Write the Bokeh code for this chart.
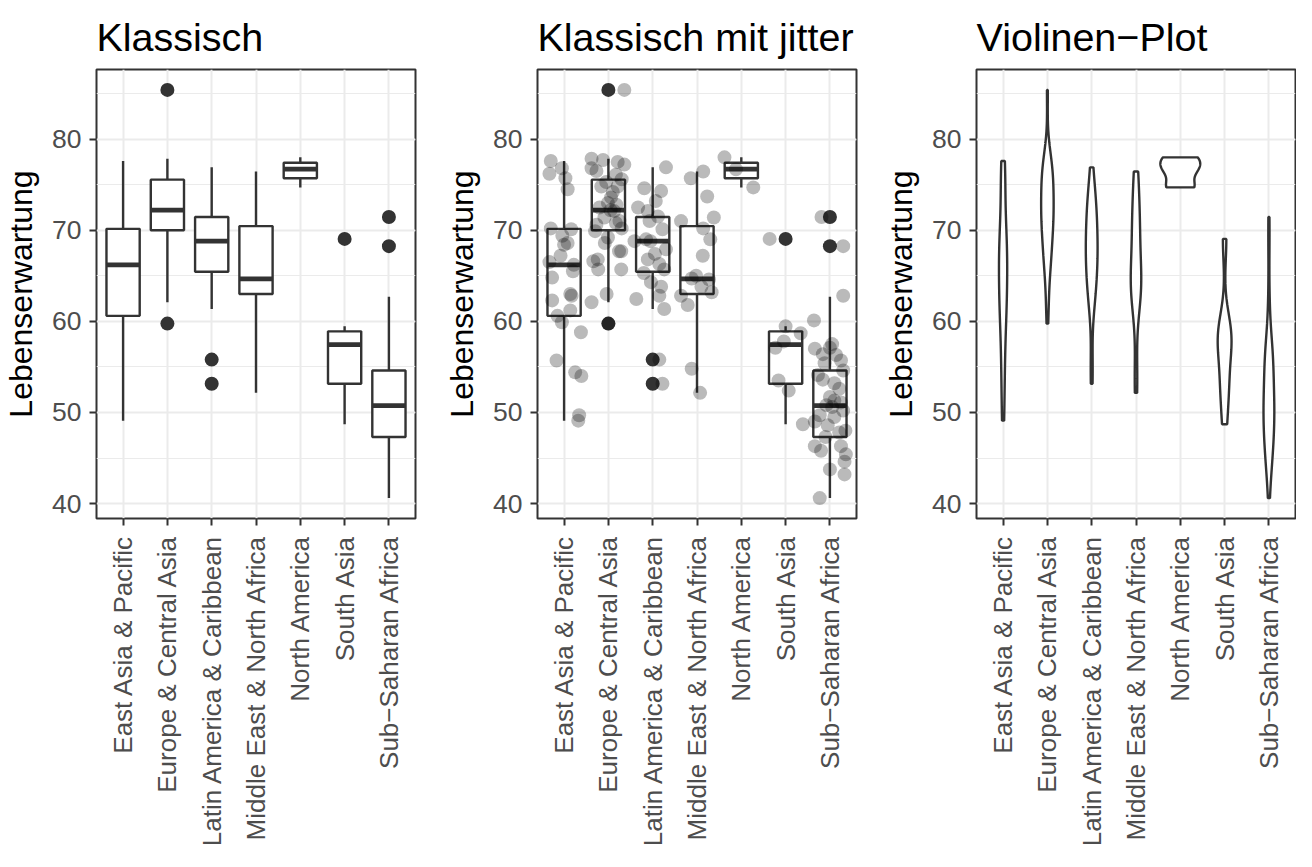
import numpy as np
from bokeh.plotting import figure
from bokeh.models import Range1d, FixedTicker, SingleIntervalTicker
from bokeh.layouts import row
from bokeh.embed import file_html
from bokeh.resources import INLINE

# ---------------- data ----------------
regions = ["East Asia & Pacific", "Europe & Central Asia", "Latin America & Caribbean",
           "Middle East & North Africa", "North America", "South Asia", "Sub\u2212Saharan Africa"]

# box plot statistics
box_lower = [49.1, 62.1, 61.35, 52.15, 74.7, 48.7, 40.6]
box_q1 = [60.6, 70.0, 65.45, 63.0, 75.7, 53.15, 47.3]
box_median = [66.2, 72.2, 68.8, 64.65, 76.7, 57.45, 50.75]
box_q3 = [70.15, 75.55, 71.45, 70.45, 77.4, 58.9, 54.6]
box_upper = [77.6, 77.85, 76.9, 76.45, 78.0, 59.45, 62.7]
outliers = [[], [85.4, 59.75], [55.8, 53.15], [], [], [69.05], [71.45, 68.25]]

# life expectancy per country, by region (with the horizontal jitter)
le_eap = [77.6, 76.8, 76.2, 75.7, 74.5, 70.2, 70.1, 69.4, 68.6, 68.4, 67.2, 66.5, 66.2, 65.5,
          64.8, 63.0, 62.8, 62.3, 61.2, 60.6, 59.9, 58.8, 55.7, 54.4, 54.0, 49.7, 49.1]
jit_eap = [-0.30, -0.05, -0.33, 0.03, 0.08, -0.30, 0.16, -0.04, 0.08, 0.00, -0.08, -0.33, 0.22, 0.20,
           -0.27, 0.14, 0.17, -0.27, 0.14, -0.15, -0.05, 0.38, -0.17, 0.25, 0.39, 0.34, 0.32]
le_eca = [85.4, 77.85, 77.7, 77.5, 77.2, 76.8, 76.5, 76.1, 75.6, 75.3, 74.8, 74.8, 74.2, 73.6,
          73.0, 72.8, 72.5, 72.2, 72.1, 71.4, 71.0, 70.8, 70.6, 70.2, 69.9, 69.2, 68.6, 67.7,
          67.7, 66.8, 66.6, 65.7, 65.7, 63.0, 62.1, 59.75]
jit_eca = [0.36, -0.38, -0.12, 0.21, 0.36, -0.38, -0.27, 0.17, 0.30, -0.05, -0.16, 0.21, 0.10, 0.06,
           -0.01, 0.18, -0.20, 0.05, 0.13, -0.09, 0.25, 0.17, -0.27, 0.30, -0.30, -0.01, -0.08, 0.24,
           0.29, -0.24, -0.34, -0.23, 0.29, -0.04, -0.38, 0.0]
le_lac = [76.9, 74.6, 74.3, 73.2, 72.5, 72.1, 71.5, 71.0, 70.1, 69.0, 68.8, 68.8, 67.9, 67.4,
          66.8, 66.3, 65.7, 65.3, 64.3, 63.8, 62.8, 62.45, 61.35, 55.8, 53.15]
jit_lac = [0.30, -0.19, 0.19, 0.07, -0.33, -0.11, 0.12, -0.07, 0.22, -0.15, -0.05, -0.41, 0.30, 0.05,
           -0.11, 0.15, 0.26, -0.20, -0.04, 0.19, 0.15, -0.37, 0.26, 0.15, 0.22]
le_mena = [76.45, 75.7, 73.7, 71.4, 71.0, 70.2, 69.0, 67.2, 65.0, 64.7, 64.6, 63.8, 63.2, 62.8,
           61.8, 54.8, 52.15]
jit_mena = [0.14, -0.14, 0.23, 0.38, -0.36, 0.14, 0.30, 0.13, -0.02, -0.12, 0.27, 0.10, 0.33, -0.36,
            -0.21, -0.12, 0.07]
le_na = [78.0, 76.7, 74.7]
jit_na = [-0.38, -0.12, 0.27]
le_sa = [69.05, 59.45, 58.7, 57.8, 57.1, 53.5, 52.4, 48.7]
jit_sa = [-0.36, 0.0, 0.34, -0.04, -0.23, -0.16, 0.07, 0.39]
le_ssa = [71.45, 68.25, 62.8, 60.1, 57.5, 57.0, 57.1, 56.4, 56.3, 55.7, 55.4, 54.6, 54.1, 53.6,
          53.2, 52.6, 51.7, 51.3, 51.1, 50.8, 50.6, 50.2, 49.7, 49.5, 49.0, 48.6, 48.0, 47.8,
          47.3, 46.3, 45.8, 46.3, 45.4, 44.6, 43.75, 43.2, 40.6]
jit_ssa = [-0.19, 0.30, 0.30, -0.36, 0.05, -0.34, 0.0, -0.16, 0.14, 0.25, -0.12, 0.30, -0.27, -0.16,
           0.10, 0.21, 0.0, 0.10, 0.25, -0.08, 0.05, 0.30, -0.23, 0.10, -0.34, -0.05, 0.35, 0.21,
           -0.10, -0.34, -0.20, 0.25, 0.36, 0.33, 0.0, 0.33, -0.23]

titles = ["Klassisch", "Klassisch mit jitter", "Violinen\u2212Plot"]
y_label = "Lebenserwartung"

values = [le_eap, le_eca, le_lac, le_mena, le_na, le_sa, le_ssa]
jitters = [jit_eap, jit_eca, jit_lac, jit_mena, jit_na, jit_sa, jit_ssa]

# ---------------- styling ----------------
FONT = "Liberation Sans"
DARK = "#333333"
GRID = "#EBEBEB"
LW = 2.4
xpos = list(range(1, len(regions) + 1))

all_vals = np.concatenate([np.array(v) for v in values])
span = all_vals.max() - all_vals.min()
ylo, yhi = all_vals.min() - 0.05 * span, all_vals.max() + 0.05 * span

HEIGHT = 851
TOP = 69
FRAME_H = 449
FRAME_W = 319


def make_fig(title, left, right):
    p = figure(width=left + FRAME_W + right, height=HEIGHT, output_backend="svg",
               toolbar_location=None,
               x_range=Range1d(0.4, 7.6), y_range=Range1d(ylo, yhi),
               min_border_left=left, min_border_right=right,
               min_border_top=TOP, min_border_bottom=HEIGHT - TOP - FRAME_H,
               background_fill_color="white", border_fill_color="white")
    p.title.text = title
    p.title.text_font = FONT
    p.title.text_font_size = "39.5px"
    p.title.text_font_style = "normal"
    p.title.text_color = "black"
    p.title.align = "left"
    p.title.standoff = 22
    p.outline_line_color = DARK
    p.outline_line_width = 2
    p.outline_line_alpha = 1

    yt = SingleIntervalTicker(interval=10, num_minor_ticks=2)
    p.yaxis.ticker = yt
    p.ygrid.ticker = yt
    xt = FixedTicker(ticks=xpos)
    p.xaxis.ticker = xt
    p.xgrid.ticker = xt
    p.xaxis.major_label_overrides = {i: r for i, r in zip(xpos, regions)}
    p.xaxis.major_label_orientation = np.pi / 2

    for ax in (p.xaxis[0], p.yaxis[0]):
        ax.axis_line_color = None
        ax.major_tick_line_color = DARK
        ax.major_tick_line_width = 2
        ax.major_tick_out = 7
        ax.major_tick_in = 0
        ax.minor_tick_line_color = None
        ax.major_label_text_font = FONT
        ax.major_label_text_color = "#4D4D4D"
    p.xaxis.major_label_text_font_size = "26px"
    p.xaxis.major_label_standoff = 10
    p.yaxis.major_label_text_font_size = "26.5px"
    p.yaxis.major_label_standoff = 8
    p.yaxis.axis_label = y_label
    p.yaxis.axis_label_text_font = FONT
    p.yaxis.axis_label_text_font_size = "32px"
    p.yaxis.axis_label_text_font_style = "normal"
    p.yaxis.axis_label_text_color = "black"
    p.yaxis.axis_label_standoff = 10

    p.xgrid.grid_line_color = GRID
    p.xgrid.grid_line_width = 2
    p.ygrid.grid_line_color = GRID
    p.ygrid.grid_line_width = 2
    p.ygrid.minor_grid_line_color = GRID
    p.ygrid.minor_grid_line_width = 1.2
    return p


def draw_boxes(p):
    x = np.array(xpos, dtype=float)
    hw = 0.375
    p.segment(x0=x, y0=box_q3, x1=x, y1=box_upper, line_color=DARK, line_width=LW)
    p.segment(x0=x, y0=box_q1, x1=x, y1=box_lower, line_color=DARK, line_width=LW)
    p.quad(left=x - hw, right=x + hw, bottom=box_q1, top=box_q3,
           fill_color="white", line_color=DARK, line_width=LW)
    p.segment(x0=x - hw, y0=box_median, x1=x + hw, y1=box_median, line_color=DARK, line_width=4.8)
    ox, oy = [], []
    for xi, outs in zip(xpos, outliers):
        for o in outs:
            ox.append(xi)
            oy.append(o)
    p.scatter(x=ox, y=oy, size=14, fill_color=DARK, line_color=None)


def bw_nrd0(v):
    v = np.asarray(v, dtype=float)
    hi = np.std(v, ddof=1)
    q75, q25 = np.percentile(v, [75, 25])
    lo = min(hi, (q75 - q25) / 1.34)
    if lo == 0:
        lo = hi if hi > 0 else 1.0
    return 0.9 * lo * len(v) ** (-0.2)


# ---------------- panel 1 ----------------
p1 = make_fig(titles[0], 96, 25)
draw_boxes(p1)

# ---------------- panel 2 ----------------
p2 = make_fig(titles[1], 97, 24)
draw_boxes(p2)
jx, jy = [], []
for xi, vals, jit in zip(xpos, values, jitters):
    for v, d in zip(vals, jit):
        jx.append(xi + d)
        jy.append(v)
p2.scatter(x=jx, y=jy, size=14, fill_color="black", fill_alpha=0.27, line_color=None)

# ---------------- panel 3 ----------------
p3 = make_fig(titles[2], 96, 1)
dens = []
for vals in values:
    v = np.asarray(vals, dtype=float)
    bw = bw_nrd0(v)
    grid = np.linspace(v.min(), v.max(), 512)
    d = np.exp(-0.5 * ((grid[:, None] - v[None, :]) / bw) ** 2).sum(axis=1) / (len(v) * bw * np.sqrt(2 * np.pi))
    dens.append((grid, d))
dmax = max(d.max() for _, d in dens)
xs, ys = [], []
for xi, (grid, d) in zip(xpos, dens):
    w = d / dmax * 0.45
    xs.append(list(xi - w) + list((xi + w)[::-1]))
    ys.append(list(grid) + list(grid[::-1]))
p3.patches(xs=xs, ys=ys, fill_color="white", line_color=DARK, line_width=LW)

layout = row(p1, p2, p3, spacing=0)
open("out.html", "w").write(file_html(layout, INLINE))
